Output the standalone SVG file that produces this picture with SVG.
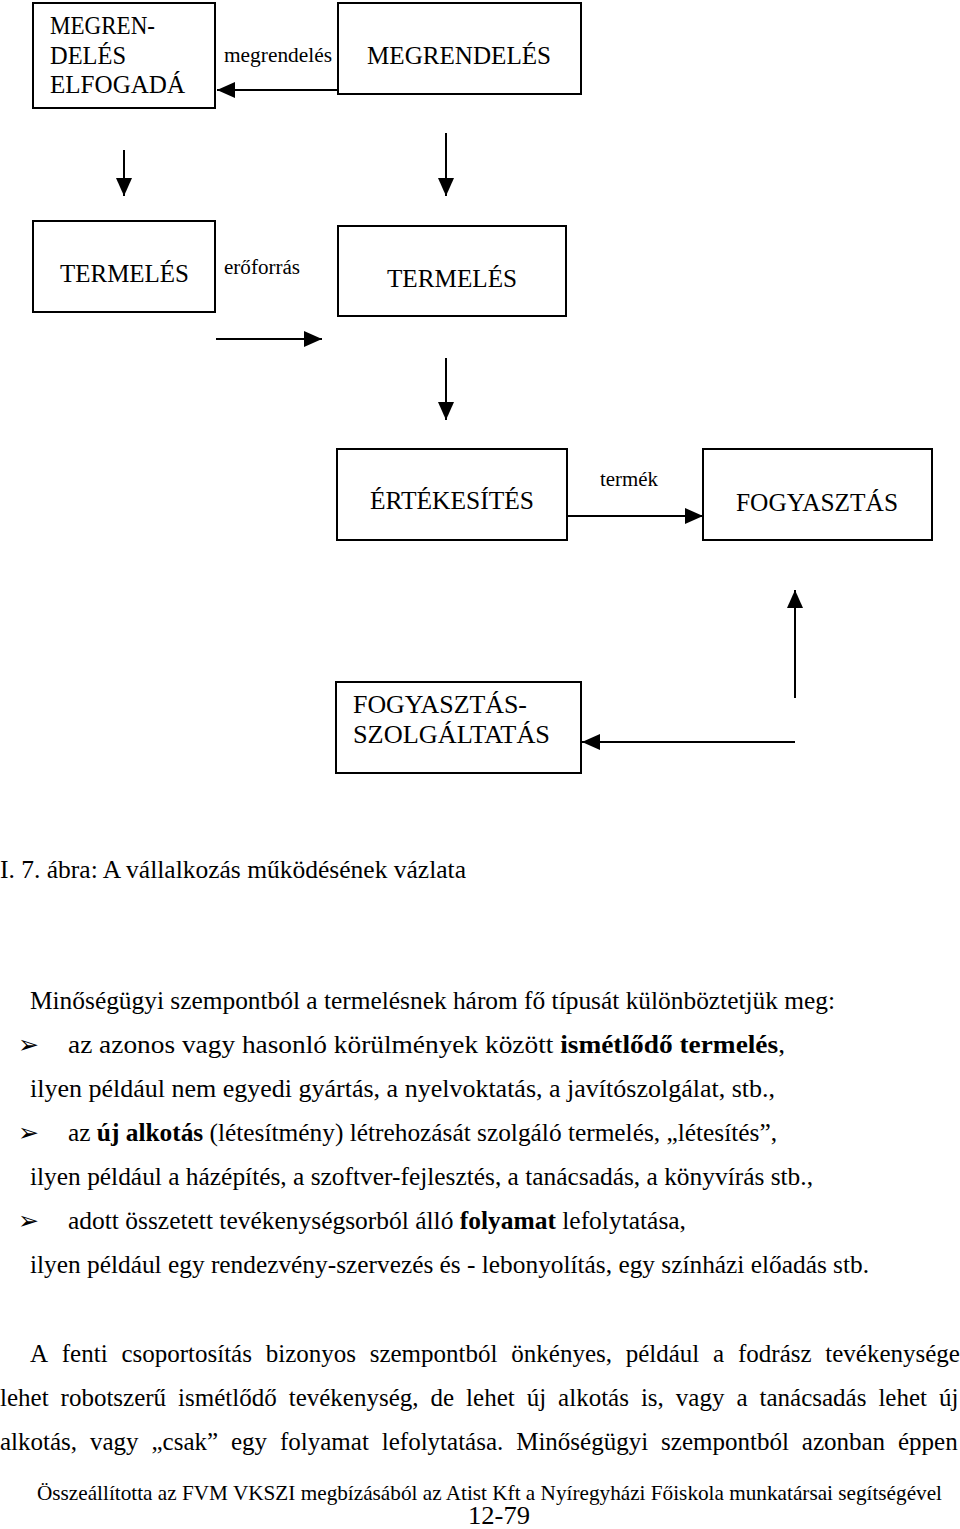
<svg xmlns="http://www.w3.org/2000/svg" width="960" height="1529" viewBox="0 0 960 1529">
<style>
.box{fill:#fff;stroke:#000;stroke-width:2}
.bt{font-family:"Liberation Serif","Times New Roman",serif;font-size:25px;fill:#000}
.lbl{font-family:"Liberation Serif","Times New Roman",serif;font-size:20px;fill:#000}
.p{font-family:"Liberation Serif","Times New Roman",serif;font-size:25px;fill:#000}
.b{font-weight:bold}
.bul{font-family:"DejaVu Sans",sans-serif;font-size:25px;fill:#000}
.c{stroke:#000;stroke-width:2;fill:none}
</style>
<defs>
<marker id="ah" viewBox="0 0 18 16" refX="18" refY="8" markerWidth="18" markerHeight="16" markerUnits="userSpaceOnUse" orient="auto">
<path d="M0,0 L18,8 L0,16 Z" fill="#000"/>
</marker>
</defs>
<rect width="960" height="1529" fill="#fff"/>

<g id="connectors">
<line class="c" x1="338" y1="90" x2="217" y2="90" marker-end="url(#ah)"/>
<line class="c" x1="124" y1="150" x2="124" y2="196" marker-end="url(#ah)"/>
<line class="c" x1="446" y1="133" x2="446" y2="196" marker-end="url(#ah)"/>
<line class="c" x1="216" y1="339" x2="322" y2="339" marker-end="url(#ah)"/>
<line class="c" x1="446" y1="358" x2="446" y2="420" marker-end="url(#ah)"/>
<line class="c" x1="567" y1="516" x2="703" y2="516" marker-end="url(#ah)"/>
<line class="c" x1="795" y1="698" x2="795" y2="590" marker-end="url(#ah)"/>
<line class="c" x1="795" y1="742" x2="582" y2="742" marker-end="url(#ah)"/>
</g>

<g id="labels">
<text class="lbl" x="224" y="62" textLength="108" lengthAdjust="spacingAndGlyphs">megrendelés</text>
<text class="lbl" x="224" y="274" textLength="76" lengthAdjust="spacingAndGlyphs">erőforrás</text>
<text class="lbl" x="600" y="486" textLength="58" lengthAdjust="spacingAndGlyphs">termék</text>
</g>

<g id="node-megrendeles-elfogada">
<rect class="box" x="33" y="3" width="182" height="105"/>
<text class="bt" x="50" y="34" textLength="105" lengthAdjust="spacingAndGlyphs">MEGREN-</text>
<text class="bt" x="50" y="64" textLength="76" lengthAdjust="spacingAndGlyphs">DELÉS</text>
<text class="bt" x="50" y="93" textLength="135" lengthAdjust="spacingAndGlyphs">ELFOGADÁ</text>
</g>
<g id="node-megrendeles">
<rect class="box" x="338" y="3" width="243" height="91"/>
<text class="bt" x="367" y="64" textLength="184" lengthAdjust="spacingAndGlyphs">MEGRENDELÉS</text>
</g>
<g id="node-termeles-1">
<rect class="box" x="33" y="221" width="182" height="91"/>
<text class="bt" x="60" y="282" textLength="129" lengthAdjust="spacingAndGlyphs">TERMELÉS</text>
</g>
<g id="node-termeles-2">
<rect class="box" x="338" y="226" width="228" height="90"/>
<text class="bt" x="387" y="287" textLength="130" lengthAdjust="spacingAndGlyphs">TERMELÉS</text>
</g>
<g id="node-ertekesites">
<rect class="box" x="337" y="449" width="230" height="91"/>
<text class="bt" x="370" y="509" textLength="164" lengthAdjust="spacingAndGlyphs">ÉRTÉKESÍTÉS</text>
</g>
<g id="node-fogyasztas">
<rect class="box" x="703" y="449" width="229" height="91"/>
<text class="bt" x="736" y="511" textLength="162" lengthAdjust="spacingAndGlyphs">FOGYASZTÁS</text>
</g>
<g id="node-fogyasztas-szolgaltatas">
<rect class="box" x="336" y="682" width="245" height="91"/>
<text class="bt" x="353" y="713" textLength="174" lengthAdjust="spacingAndGlyphs">FOGYASZTÁS-</text>
<text class="bt" x="353" y="743" textLength="197" lengthAdjust="spacingAndGlyphs">SZOLGÁLTATÁS</text>
</g>

<g id="body-text">
<text class="p" x="0" y="878" textLength="466" lengthAdjust="spacingAndGlyphs">I. 7. ábra: A vállalkozás működésének vázlata</text>

<text class="p" x="30" y="1009" textLength="805" lengthAdjust="spacingAndGlyphs">Minőségügyi szempontból a termelésnek három fő típusát különböztetjük meg:</text>

<text class="bul" x="18" y="1053">➢</text>
<text class="p" x="68" y="1053" textLength="717" lengthAdjust="spacingAndGlyphs">az azonos vagy hasonló körülmények között <tspan class="b">ismétlődő termelés</tspan>,</text>
<text class="p" x="30" y="1097" textLength="745" lengthAdjust="spacingAndGlyphs">ilyen például nem egyedi gyártás, a nyelvoktatás, a javítószolgálat, stb.,</text>

<text class="bul" x="18" y="1141">➢</text>
<text class="p" x="68" y="1141" textLength="709" lengthAdjust="spacingAndGlyphs">az <tspan class="b">új alkotás</tspan> (létesítmény) létrehozását szolgáló termelés, „létesítés”,</text>
<text class="p" x="30" y="1185" textLength="783" lengthAdjust="spacingAndGlyphs">ilyen például a házépítés, a szoftver-fejlesztés, a tanácsadás, a könyvírás stb.,</text>

<text class="bul" x="18" y="1229">➢</text>
<text class="p" x="68" y="1229" textLength="618" lengthAdjust="spacingAndGlyphs">adott összetett tevékenységsorból álló <tspan class="b">folyamat</tspan> lefolytatása,</text>
<text class="p" x="30" y="1273" textLength="839" lengthAdjust="spacingAndGlyphs">ilyen például egy rendezvény-szervezés és - lebonyolítás, egy színházi előadás stb.</text>

<text class="p" y="1362"><tspan x="30">A</tspan><tspan x="61.8">fenti</tspan><tspan x="121.4">csoportosítás</tspan><tspan x="265.7">bizonyos</tspan><tspan x="369.7">szempontból</tspan><tspan x="511.3">önkényes,</tspan><tspan x="625.7">például</tspan><tspan x="713.1">a</tspan><tspan x="738">fodrász</tspan><tspan x="825.3">tevékenysége</tspan></text>
<text class="p" y="1406"><tspan x="0">lehet</tspan><tspan x="60.6">robotszerű</tspan><tspan x="178.1">ismétlődő</tspan><tspan x="288.7">tevékenység,</tspan><tspan x="430.5">de</tspan><tspan x="466.1">lehet</tspan><tspan x="526.7">új</tspan><tspan x="558.1">alkotás</tspan><tspan x="640.9">is,</tspan><tspan x="675.8">vagy</tspan><tspan x="736.4">a</tspan><tspan x="759.5">tanácsadás</tspan><tspan x="878.4">lehet</tspan><tspan x="939">új</tspan></text>
<text class="p" y="1450"><tspan x="0">alkotás,</tspan><tspan x="90">vagy</tspan><tspan x="151.5">„csak”</tspan><tspan x="231">egy</tspan><tspan x="280">folyamat</tspan><tspan x="381.8">lefolytatása.</tspan><tspan x="516.2">Minőségügyi</tspan><tspan x="661.1">szempontból</tspan><tspan x="801.8">azonban</tspan><tspan x="898">éppen</tspan></text>

<text class="p" x="37" y="1500" style="font-size:21px" textLength="905" lengthAdjust="spacingAndGlyphs">Összeállította az FVM VKSZI megbízásából az Atist Kft a Nyíregyházi Főiskola munkatársai segítségével</text>
<text class="p" x="468" y="1524" textLength="62" lengthAdjust="spacingAndGlyphs">12-79</text>
</g>
</svg>
